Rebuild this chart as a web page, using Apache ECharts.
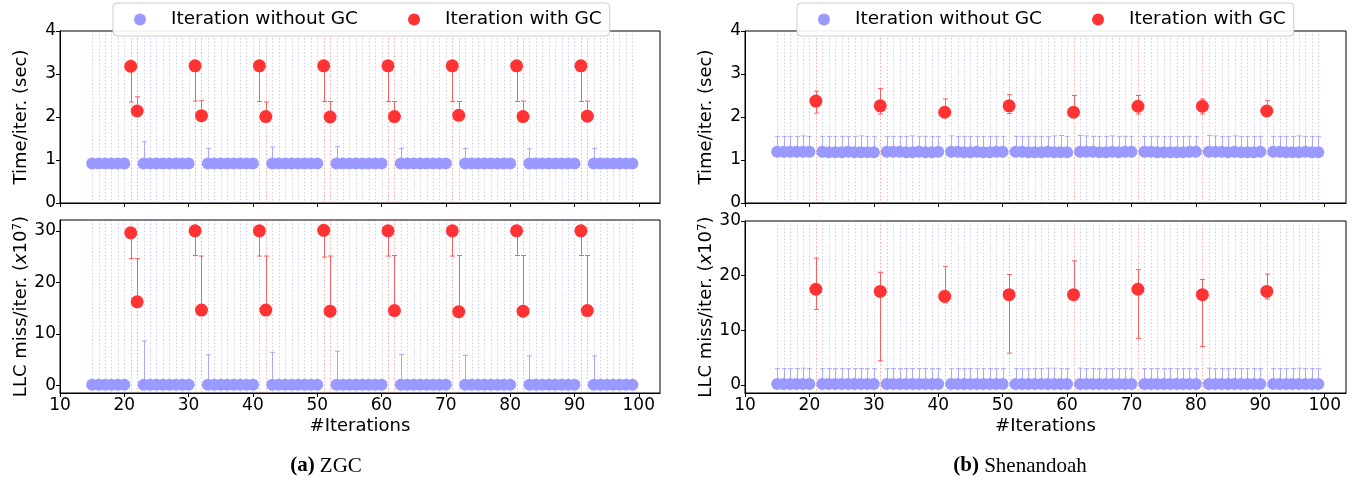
<!DOCTYPE html>
<html lang="en">
<head>
<meta charset="UTF-8">
<title>GC iterations</title>
<script src="https://cdn.jsdelivr.net/npm/echarts@6/dist/echarts.min.js"></script>
<style>
  html, body { margin: 0; padding: 0; background: #fff; }
  #main { width: 1367px; height: 484px; }
</style>
</head>
<body>
<div id="main"></div>
<script>
// ---- values ----
var xTicks = [10, 20, 30, 40, 50, 60, 70, 80, 90, 100];
var timeTicks = [0, 1, 2, 3, 4];
var llcTicks = [0, 10, 20, 30];

// (a) ZGC, iterations without GC
var zgcIters = [15, 16, 17, 18, 19, 20,
  23, 24, 25, 26, 27, 28, 29, 30,
  33, 34, 35, 36, 37, 38, 39, 40,
  43, 44, 45, 46, 47, 48, 49, 50,
  53, 54, 55, 56, 57, 58, 59, 60,
  63, 64, 65, 66, 67, 68, 69, 70,
  73, 74, 75, 76, 77, 78, 79, 80,
  83, 84, 85, 86, 87, 88, 89, 90,
  93, 94, 95, 96, 97, 98, 99];
var zgcTime = [0.92, 0.92, 0.92, 0.92, 0.92, 0.92,
  0.92, 0.92, 0.92, 0.92, 0.92, 0.92, 0.92, 0.92,
  0.92, 0.92, 0.92, 0.92, 0.92, 0.92, 0.92, 0.92,
  0.92, 0.92, 0.92, 0.92, 0.92, 0.92, 0.92, 0.92,
  0.92, 0.92, 0.92, 0.92, 0.92, 0.92, 0.92, 0.92,
  0.92, 0.92, 0.92, 0.92, 0.92, 0.92, 0.92, 0.92,
  0.92, 0.92, 0.92, 0.92, 0.92, 0.92, 0.92, 0.92,
  0.92, 0.92, 0.92, 0.92, 0.92, 0.92, 0.92, 0.92,
  0.92, 0.92, 0.92, 0.92, 0.92, 0.92, 0.92];
var zgcTimeHi = [0.93, 0.93, 0.93, 0.93, 0.93, 0.93,
  1.42, 0.93, 0.93, 0.93, 0.93, 0.93, 0.93, 0.93,
  1.27, 0.93, 0.93, 0.93, 0.93, 0.93, 0.93, 0.93,
  1.30, 0.93, 0.93, 0.93, 0.93, 0.93, 0.93, 0.93,
  1.31, 0.93, 0.93, 0.93, 0.93, 0.93, 0.93, 0.93,
  1.27, 0.93, 0.93, 0.93, 0.93, 0.93, 0.93, 0.93,
  1.27, 0.93, 0.93, 0.93, 0.93, 0.93, 0.93, 0.93,
  1.26, 0.93, 0.93, 0.93, 0.93, 0.93, 0.93, 0.93,
  1.27, 0.93, 0.93, 0.93, 0.93, 0.93, 0.93];
var zgcLlc = [0.1, 0.1, 0.1, 0.1, 0.1, 0.1,
  0.1, 0.1, 0.1, 0.1, 0.1, 0.1, 0.1, 0.1,
  0.1, 0.1, 0.1, 0.1, 0.1, 0.1, 0.1, 0.1,
  0.1, 0.1, 0.1, 0.1, 0.1, 0.1, 0.1, 0.1,
  0.1, 0.1, 0.1, 0.1, 0.1, 0.1, 0.1, 0.1,
  0.1, 0.1, 0.1, 0.1, 0.1, 0.1, 0.1, 0.1,
  0.1, 0.1, 0.1, 0.1, 0.1, 0.1, 0.1, 0.1,
  0.1, 0.1, 0.1, 0.1, 0.1, 0.1, 0.1, 0.1,
  0.1, 0.1, 0.1, 0.1, 0.1, 0.1, 0.1];
var zgcLlcHi = [0.2, 0.2, 0.2, 0.2, 0.2, 0.2,
  8.6, 0.2, 0.2, 0.2, 0.2, 0.2, 0.2, 0.2,
  5.9, 0.2, 0.2, 0.2, 0.2, 0.2, 0.2, 0.2,
  6.4, 0.2, 0.2, 0.2, 0.2, 0.2, 0.2, 0.2,
  6.6, 0.2, 0.2, 0.2, 0.2, 0.2, 0.2, 0.2,
  6.0, 0.2, 0.2, 0.2, 0.2, 0.2, 0.2, 0.2,
  5.8, 0.2, 0.2, 0.2, 0.2, 0.2, 0.2, 0.2,
  5.7, 0.2, 0.2, 0.2, 0.2, 0.2, 0.2, 0.2,
  5.7, 0.2, 0.2, 0.2, 0.2, 0.2, 0.2];

// (a) ZGC, iterations with GC
var zgcGcIters = [21, 22, 31, 32, 41, 42, 51, 52, 61, 62, 71, 72, 81, 82, 91, 92];
var zgcGcTime = [3.18, 2.14, 3.19, 2.03, 3.19, 2.01, 3.19, 2.00, 3.19, 2.01, 3.19, 2.04, 3.19, 2.01, 3.19, 2.02];
var zgcGcTimeLo = [2.35, 2.10, 2.37, 1.99, 2.36, 1.98, 2.36, 1.97, 2.36, 1.98, 2.36, 2.00, 2.36, 1.98, 2.36, 1.99];
var zgcGcTimeHi = [3.21, 2.47, 3.22, 2.38, 3.22, 2.35, 3.22, 2.36, 3.22, 2.36, 3.22, 2.36, 3.22, 2.37, 3.22, 2.37];
var zgcGcLlc = [29.6, 16.2, 30.0, 14.6, 30.0, 14.6, 30.1, 14.4, 30.0, 14.5, 30.0, 14.3, 30.0, 14.4, 30.0, 14.5];
var zgcGcLlcLo = [24.6, 15.2, 25.2, 14.3, 25.1, 14.3, 24.9, 14.1, 25.1, 14.2, 25.1, 14.0, 25.2, 14.1, 25.2, 14.2];
var zgcGcLlcHi = [29.9, 24.6, 30.3, 25.1, 30.3, 25.1, 30.4, 25.1, 30.3, 25.2, 30.3, 25.2, 30.3, 25.2, 30.3, 25.2];

// (b) Shenandoah, iterations without GC
var shenIters = [15, 16, 17, 18, 19, 20,
  22, 23, 24, 25, 26, 27, 28, 29, 30,
  32, 33, 34, 35, 36, 37, 38, 39, 40,
  42, 43, 44, 45, 46, 47, 48, 49, 50,
  52, 53, 54, 55, 56, 57, 58, 59, 60,
  62, 63, 64, 65, 66, 67, 68, 69, 70,
  72, 73, 74, 75, 76, 77, 78, 79, 80,
  82, 83, 84, 85, 86, 87, 88, 89, 90,
  92, 93, 94, 95, 96, 97, 98, 99];
var shenTime = [1.19, 1.19, 1.19, 1.19, 1.19, 1.19,
  1.19, 1.18, 1.18, 1.18, 1.19, 1.18, 1.18, 1.18, 1.18,
  1.19, 1.19, 1.19, 1.18, 1.18, 1.19, 1.18, 1.18, 1.19,
  1.19, 1.19, 1.18, 1.18, 1.19, 1.18, 1.18, 1.19, 1.19,
  1.19, 1.19, 1.18, 1.18, 1.18, 1.19, 1.18, 1.18, 1.18,
  1.19, 1.19, 1.19, 1.18, 1.18, 1.19, 1.18, 1.19, 1.19,
  1.19, 1.19, 1.18, 1.18, 1.18, 1.18, 1.18, 1.19, 1.19,
  1.19, 1.19, 1.19, 1.18, 1.19, 1.18, 1.18, 1.18, 1.19,
  1.19, 1.19, 1.18, 1.18, 1.18, 1.19, 1.18, 1.18];
var shenTimeHi = [1.55, 1.55, 1.55, 1.55, 1.56, 1.55,
  1.55, 1.55, 1.55, 1.55, 1.55, 1.55, 1.56, 1.55, 1.55,
  1.55, 1.55, 1.55, 1.55, 1.56, 1.55, 1.55, 1.55, 1.55,
  1.56, 1.55, 1.55, 1.55, 1.55, 1.55, 1.55, 1.55, 1.55,
  1.55, 1.55, 1.55, 1.55, 1.55, 1.55, 1.56, 1.57, 1.55,
  1.57, 1.56, 1.55, 1.55, 1.55, 1.56, 1.55, 1.55, 1.55,
  1.55, 1.55, 1.55, 1.55, 1.55, 1.55, 1.55, 1.55, 1.55,
  1.57, 1.56, 1.55, 1.55, 1.56, 1.55, 1.55, 1.55, 1.55,
  1.55, 1.55, 1.55, 1.55, 1.56, 1.55, 1.55, 1.55];
var shenLlc = [0.15, 0.15, 0.15, 0.15, 0.15, 0.15,
  0.15, 0.15, 0.15, 0.15, 0.15, 0.15, 0.15, 0.15, 0.15,
  0.15, 0.15, 0.15, 0.15, 0.15, 0.15, 0.15, 0.15, 0.15,
  0.15, 0.15, 0.15, 0.15, 0.15, 0.15, 0.15, 0.15, 0.15,
  0.15, 0.15, 0.15, 0.15, 0.15, 0.15, 0.15, 0.15, 0.15,
  0.15, 0.15, 0.15, 0.15, 0.15, 0.15, 0.15, 0.15, 0.15,
  0.15, 0.15, 0.15, 0.15, 0.15, 0.15, 0.15, 0.15, 0.15,
  0.15, 0.15, 0.15, 0.15, 0.15, 0.15, 0.15, 0.15, 0.15,
  0.15, 0.15, 0.15, 0.15, 0.15, 0.15, 0.15, 0.15];
var shenLlcHi = [2.95, 2.95, 2.95, 2.95, 3.05, 2.95,
  2.95, 2.95, 2.95, 2.95, 2.95, 2.95, 2.95, 2.95, 2.95,
  2.95, 2.95, 2.95, 2.95, 3.0, 2.95, 2.95, 2.95, 2.95,
  2.95, 2.95, 2.95, 2.95, 2.95, 2.95, 2.95, 2.95, 2.95,
  2.95, 2.95, 2.95, 2.95, 2.95, 3.05, 3.05, 2.95, 2.95,
  3.05, 2.95, 2.95, 2.95, 2.95, 2.95, 2.95, 2.95, 2.95,
  2.95, 2.95, 2.95, 2.95, 2.95, 2.95, 2.95, 2.95, 2.95,
  3.05, 2.95, 2.95, 2.95, 3.0, 2.95, 2.95, 2.95, 2.95,
  2.95, 2.95, 2.95, 2.95, 3.05, 2.95, 2.95, 2.95];

// (b) Shenandoah, iterations with GC
var shenGcIters = [21, 31, 41, 51, 61, 71, 81, 91];
var shenGcTime = [2.37, 2.26, 2.11, 2.26, 2.11, 2.25, 2.25, 2.14];
var shenGcTimeLo = [2.09, 2.07, 2.06, 2.08, 2.06, 2.07, 2.07, 2.09];
var shenGcTimeHi = [2.60, 2.66, 2.42, 2.52, 2.50, 2.50, 2.42, 2.38];
var shenGcLlc = [17.5, 17.1, 16.2, 16.5, 16.5, 17.5, 16.5, 17.1];
var shenGcLlcLo = [13.8, 4.4, 15.0, 5.8, 15.7, 8.5, 7.0, 15.7];
var shenGcLlcHi = [23.2, 20.6, 21.7, 20.2, 22.7, 21.1, 19.3, 20.3];

// ---- drawing ----
var BLUE = '#9999ff';
var RED = '#ff3333';
var FONT = 'DejaVu Sans';
var NAME_NO = 'Iteration without GC';
var NAME_GC = 'Iteration with GC';

var chart = echarts.init(document.getElementById('main'));

function vlineItem(color) {
  return function (params, api) {
    var cs = params.coordSys;
    var x = Math.round(api.coord([api.value(0), 0])[0]) + 0.5;
    return {
      type: 'line',
      shape: {x1: x, y1: cs.y, x2: x, y2: cs.y + cs.height},
      style: {stroke: color, lineWidth: 1, lineDash: [1.5, 2]}
    };
  };
}

function errItem(color) {
  return function (params, api) {
    var lo = api.coord([api.value(0), api.value(1)]);
    var hi = api.coord([api.value(0), api.value(2)]);
    var x = Math.round(lo[0]) + 0.5, w = 2.5;
    var st = {stroke: color, lineWidth: 1};
    return {
      type: 'group',
      children: [
        {type: 'line', shape: {x1: x, y1: lo[1], x2: x, y2: hi[1]}, style: st},
        {type: 'line', shape: {x1: x - w, y1: lo[1], x2: x + w, y2: lo[1]}, style: st},
        {type: 'line', shape: {x1: x - w, y1: hi[1], x2: x + w, y2: hi[1]}, style: st}
      ]
    };
  };
}

function zip2(a, b) { return a.map(function (v, i) { return [v, b[i]]; }); }
function zip3(a, b, c) { return a.map(function (v, i) { return [v, b[i], c[i]]; }); }

// one panel = dotted guide lines + error bars + markers
function panel(g, iters, vals, his, gcIters, gcVals, gcLo, gcHi) {
  return [
    {type: 'custom', xAxisIndex: g, yAxisIndex: g, silent: true, z: 1,
      renderItem: vlineItem('rgba(110,110,255,0.35)'), data: iters.map(function (v) { return [v]; })},
    {type: 'custom', xAxisIndex: g, yAxisIndex: g, silent: true, z: 1,
      renderItem: vlineItem('rgba(255,80,80,0.5)'), data: gcIters.map(function (v) { return [v]; })},
    {type: 'custom', xAxisIndex: g, yAxisIndex: g, silent: true, z: 2,
      renderItem: errItem('#a8a8ff'), data: zip3(iters, vals, his)},
    {type: 'custom', xAxisIndex: g, yAxisIndex: g, silent: true, z: 2,
      renderItem: errItem('#ff5c5c'), data: zip3(gcIters, gcLo, gcHi)},
    {type: 'scatter', name: NAME_NO, xAxisIndex: g, yAxisIndex: g, z: 3,
      symbolSize: 12, itemStyle: {color: BLUE, opacity: 1}, data: zip2(iters, vals)},
    {type: 'scatter', name: NAME_GC, xAxisIndex: g, yAxisIndex: g, z: 3,
      symbolSize: 13, itemStyle: {color: RED, opacity: 1}, data: zip2(gcIters, gcVals)}
  ];
}

var tickFont = {fontSize: 17, fontFamily: FONT, color: '#000'};

function xAxisFor(g, withLabels) {
  return {
    type: 'value', gridIndex: g, min: 10, max: 103.3,
    name: withLabels ? '#Iterations' : '',
    nameLocation: 'middle', nameGap: 24,
    nameTextStyle: {fontSize: 18, fontFamily: FONT, color: '#000'},
    axisLine: {onZero: false, lineStyle: {color: '#000', width: 1}},
    axisTick: {length: 4, customValues: xTicks, lineStyle: {color: '#000'}},
    axisLabel: Object.assign({show: withLabels, margin: 4, customValues: xTicks}, tickFont),
    splitLine: {show: false}
  };
}

var supName = 'LLC miss/iter. ({it|x}10{sup|7})';
var nameStyle = {
  fontSize: 18, fontFamily: FONT, color: '#000',
  rich: {
    it: {fontSize: 18, fontFamily: FONT, fontStyle: 'italic', color: '#000'},
    sup: {fontSize: 12, fontFamily: FONT, color: '#000', verticalAlign: 'top'}
  }
};

function yAxisFor(g, min, max, ticks, name) {
  return {
    type: 'value', gridIndex: g, min: min, max: max,
    name: name, nameLocation: 'middle', nameGap: 30, nameTextStyle: nameStyle,
    axisLine: {onZero: false, lineStyle: {color: '#000', width: 1}},
    axisTick: {length: 4, customValues: ticks, lineStyle: {color: '#000'}},
    axisLabel: Object.assign({margin: 4, customValues: ticks}, tickFont),
    splitLine: {show: false}
  };
}

function legendAt(left) {
  return {
    left: left, top: 3, z: 10,
    data: [NAME_NO, NAME_GC],
    icon: 'circle', itemWidth: 12, itemHeight: 12, itemGap: 50,
    padding: [7, 8, 7, 21],
    backgroundColor: 'rgba(255,255,255,0.92)',
    borderColor: '#cccccc', borderWidth: 1, borderRadius: 4,
    textStyle: {fontSize: 18.5, fontFamily: FONT, color: '#000', padding: [0, 0, 0, 20]},
    selectedMode: false
  };
}

var gridBox = {show: true, borderColor: '#000', borderWidth: 1};

function caption(x, tag, label) {
  return {type: 'text', x: x, y: 466, style: {
    text: '{b|' + tag + '} ' + label, fontSize: 21, fontFamily: 'Liberation Serif', fill: '#000',
    align: 'center', verticalAlign: 'middle',
    rich: {b: {fontSize: 21, fontFamily: 'Liberation Serif', fontWeight: 'bold'}}}};
}

var option = {
  animation: false,
  backgroundColor: '#fff',
  grid: [
    Object.assign({left: 60, top: 31, width: 600, height: 172}, gridBox),
    Object.assign({left: 60, top: 220, width: 600, height: 173}, gridBox),
    Object.assign({left: 745, top: 31, width: 601, height: 172}, gridBox),
    Object.assign({left: 745, top: 221, width: 601, height: 172}, gridBox)
  ],
  legend: [legendAt(113), legendAt(797)],
  xAxis: [xAxisFor(0, false), xAxisFor(1, true), xAxisFor(2, false), xAxisFor(3, true)],
  yAxis: [
    yAxisFor(0, 0, 4, timeTicks, 'Time/iter. (sec)'),
    yAxisFor(1, -1.5, 32.1, llcTicks, supName),
    yAxisFor(2, 0, 4, timeTicks, 'Time/iter. (sec)'),
    yAxisFor(3, -1.5, 30, llcTicks, supName)
  ],
  graphic: [caption(326, '(a)', 'ZGC'), caption(1020, '(b)', 'Shenandoah')],
  series: [].concat(
    panel(0, zgcIters, zgcTime, zgcTimeHi, zgcGcIters, zgcGcTime, zgcGcTimeLo, zgcGcTimeHi),
    panel(1, zgcIters, zgcLlc, zgcLlcHi, zgcGcIters, zgcGcLlc, zgcGcLlcLo, zgcGcLlcHi),
    panel(2, shenIters, shenTime, shenTimeHi, shenGcIters, shenGcTime, shenGcTimeLo, shenGcTimeHi),
    panel(3, shenIters, shenLlc, shenLlcHi, shenGcIters, shenGcLlc, shenGcLlcLo, shenGcLlcHi)
  )
};

chart.setOption(option);
</script>
</body>
</html>
